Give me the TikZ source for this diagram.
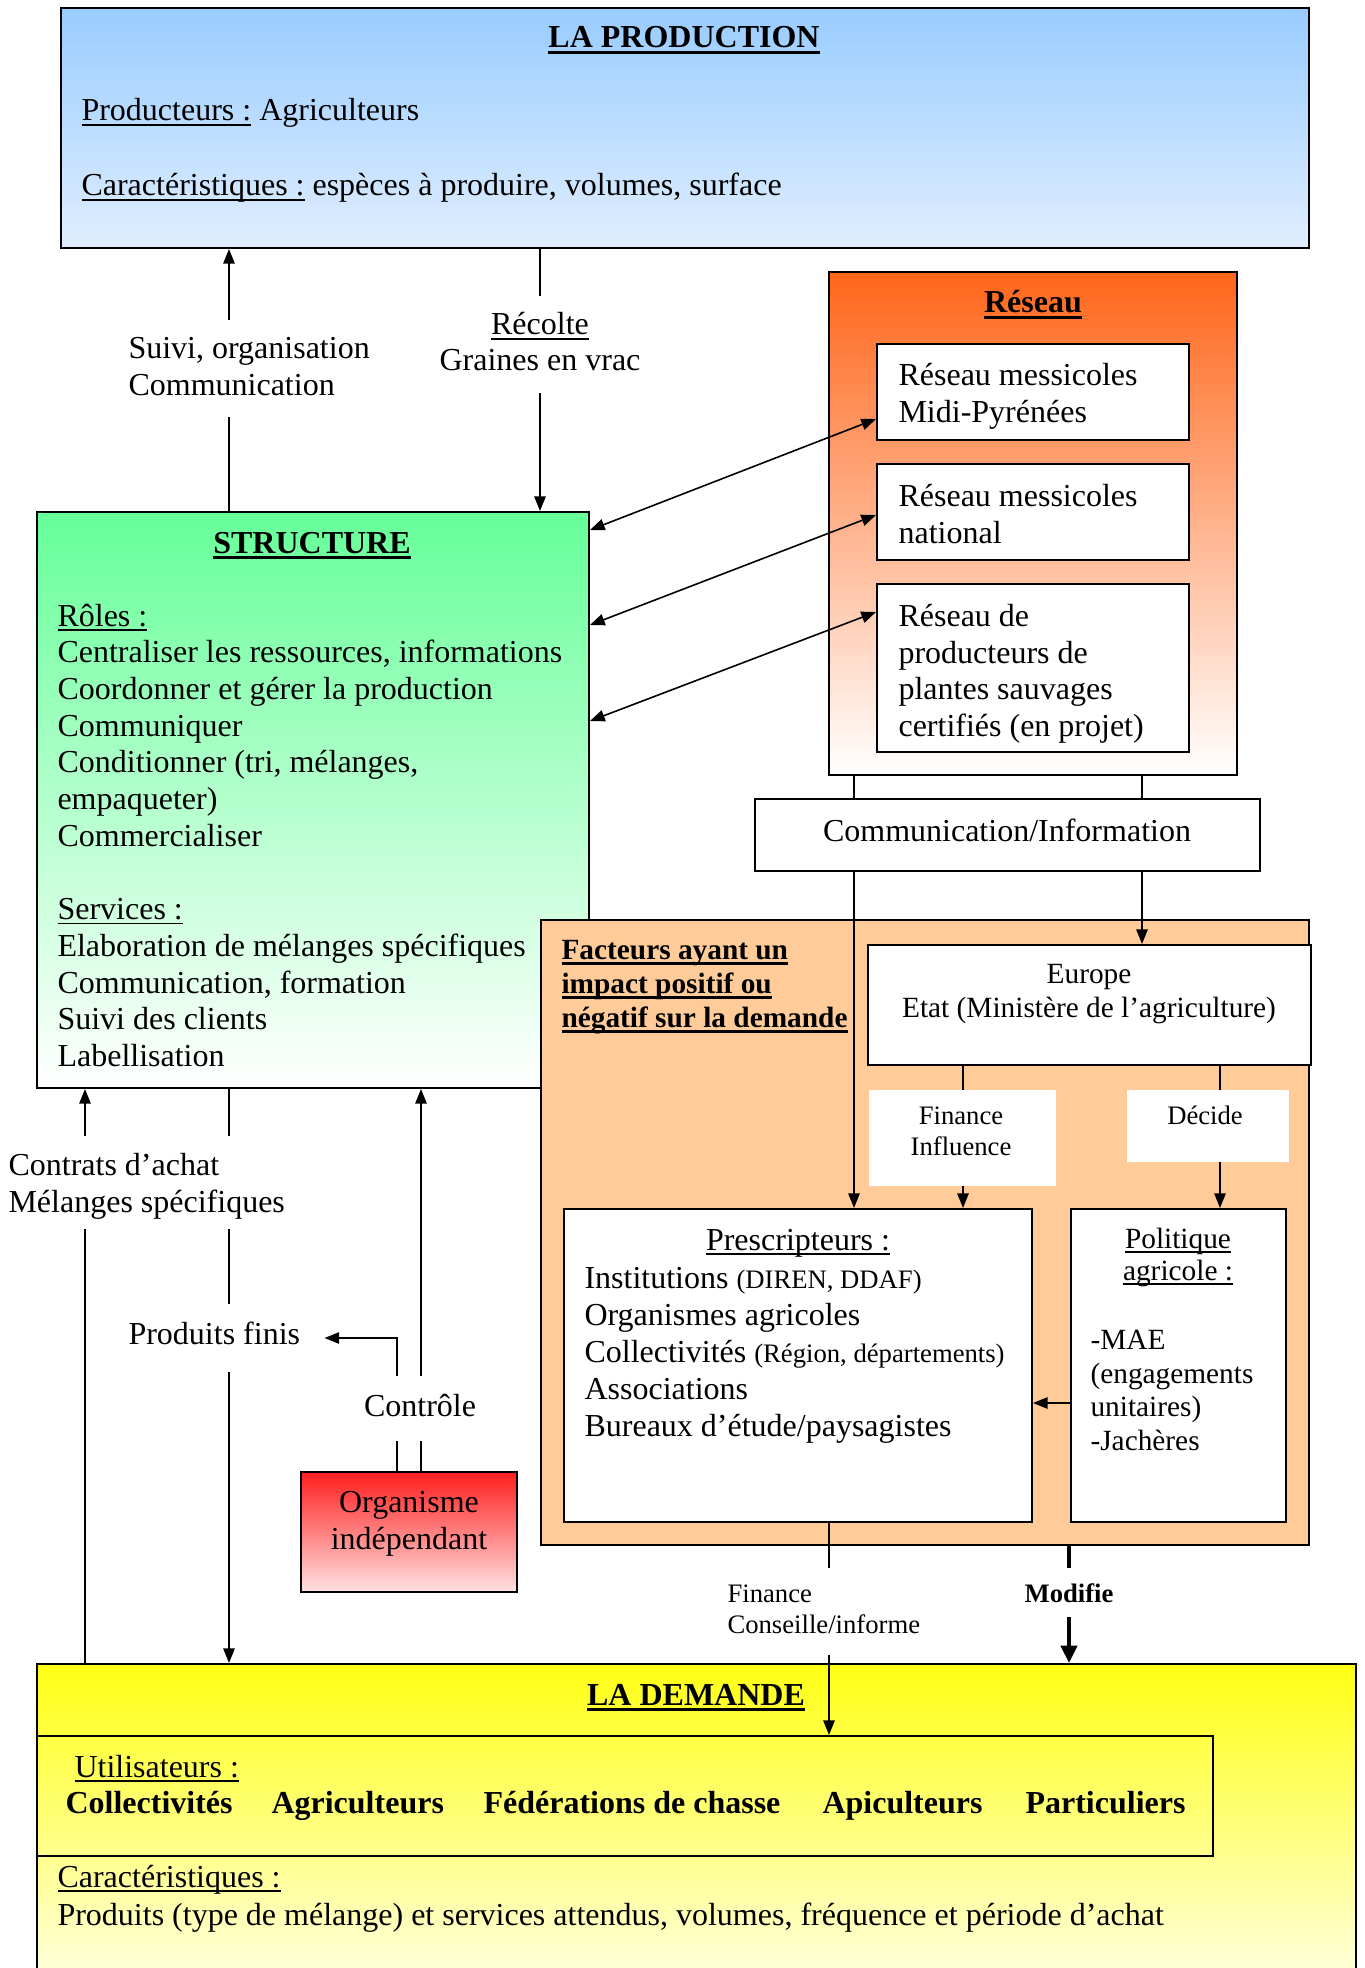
\documentclass[tikz,border=0pt]{standalone}
\usepackage{fontspec}
\setmainfont{Liberation Serif}
\usetikzlibrary{arrows.meta,fit}
\definecolor{prodtop}{RGB}{153,204,255}
\definecolor{prodbot}{RGB}{224,238,255}
\definecolor{structtop}{RGB}{102,255,153}
\definecolor{restop}{RGB}{255,102,26}
\definecolor{orgtop}{RGB}{255,30,30}
\definecolor{orgbot}{RGB}{255,226,226}
\definecolor{facorange}{RGB}{255,204,153}
\definecolor{demtop}{RGB}{255,255,20}
\definecolor{dembot}{RGB}{255,255,232}
\newsavebox{\myulbox}
\newcommand{\myul}[1]{\sbox{\myulbox}{#1}\rlap{\rule[-1.8pt]{\wd\myulbox}{0.55pt}}\usebox{\myulbox}}
\newcommand{\myulb}[1]{\sbox{\myulbox}{#1}\rlap{\rule[-2.2pt]{\wd\myulbox}{1pt}}\usebox{\myulbox}}
\begin{document}
\begin{tikzpicture}[x=0.375pt,y=-0.375pt,
  box/.style={draw, line width=0.75pt, inner sep=0pt},
  lab/.style={fill=white, inner sep=0pt},
  ln/.style={line width=0.6pt},
  arr/.style={line width=0.6pt, -{Triangle[length=5.5pt,width=4.3pt]}},
  arrtwo/.style={line width=0.6pt, {Triangle[length=5.5pt,width=4.3pt]}-{Triangle[length=5.5pt,width=4.3pt]}},
  arrthick/.style={line width=1.5pt, -{Triangle[length=6.5pt,width=6pt]}},
  t12/.style={inner sep=0pt, font=\fontsize{12}{13.8}\selectfont},
  tb12/.style={inner sep=0pt, font=\fontsize{12}{13.8}\selectfont\bfseries},
  t11/.style={inner sep=0pt, font=\fontsize{11}{12.6}\selectfont},
  tb11/.style={inner sep=0pt, font=\fontsize{11}{12.6}\selectfont\bfseries},
  t10/.style={inner sep=0pt, font=\fontsize{10}{11.5}\selectfont},
  tb10/.style={inner sep=0pt, font=\fontsize{10}{11.5}\selectfont\bfseries}]
\useasboundingbox (0,0) rectangle (1365,1968);

% ---------- boxes ----------
\node[box, fit={(61,8)(1309,248)}, top color=prodtop, bottom color=prodbot] (prod) {};
\node[box, fit={(37,512)(589,1088)}, top color=structtop, bottom color=white] (struct) {};
\node[box, fit={(829,272)(1237,775)}, top color=restop, bottom color=white] (reseau) {};
\node[box, fit={(877,344)(1189,440)}, fill=white] (r1) {};
\node[box, fit={(877,464)(1189,560)}, fill=white] (r2) {};
\node[box, fit={(877,584)(1189,752)}, fill=white] (r3) {};
\node[box, fit={(755,799)(1260,871)}, fill=white] (comm) {};
\node[box, fit={(541,920)(1309,1545)}, fill=facorange] (orange) {};
\node[box, fit={(868,945)(1311,1065)}, fill=white] (europe) {};
\node[box, fit={(564,1209)(1032,1522)}, fill=white] (presc) {};
\node[box, fit={(1071,1209)(1286,1522)}, fill=white] (polit) {};
\node[box, fit={(301,1472)(517,1592)}, top color=orgtop, bottom color=orgbot] (organisme) {};
\node[box, fit={(37,1664)(1356,1995)}, top color=demtop, bottom color=dembot] (demande) {};
\node[box, fit={(37,1736)(1213,1856)}, fill=none] (util) {};

% ---------- x / y reference coordinates ----------
\coordinate (xs) at (229,0);
\coordinate (xr) at (540,0);
\coordinate (xc1) at (854,0);
\coordinate (xc2) at (1142,0);
\coordinate (xf) at (963,0);
\coordinate (xd) at (1220,0);
\coordinate (yp) at (0,1403);
\coordinate (xfc) at (829,0);
\coordinate (xm) at (1069,0);
\coordinate (xl) at (85,0);
\coordinate (xp) at (229,0);
\coordinate (xcu) at (421,0);
\coordinate (xco) at (397,0);

% ---------- connectors ----------
\draw[arr] (struct.north -| xs) -- (prod.south -| xs);
\draw[arr] (prod.south -| xr) -- (struct.north -| xr);
\draw[arrtwo] ([shift={(0,19)}]struct.north east) -- ([shift={(0,-22)}]r1.south west);
\draw[arrtwo] ([shift={(0,114)}]struct.north east) -- ([shift={(0,-46)}]r2.south west);
\draw[arrtwo] ([shift={(0,210)}]struct.north east) -- ([shift={(0,-141)}]r3.south west);
\draw[ln] (reseau.south -| xc1) -- (comm.north -| xc1);
\draw[ln] (reseau.south -| xc2) -- (comm.north -| xc2);
\draw[arr] (comm.south -| xc1) -- (presc.north -| xc1);
\draw[arr] (comm.south -| xc2) -- (europe.north -| xc2);
\draw[arr] (europe.south -| xf) -- (presc.north -| xf);
\draw[arr] (europe.south -| xd) -- (polit.north -| xd);
\draw[arr] (polit.west |- yp) -- (presc.east |- yp);
\draw[arr] (presc.south -| xfc) -- (util.north -| xfc);
\draw[arrthick] (orange.south -| xm) -- (demande.north -| xm);
\draw[arr] (demande.north -| xl) -- (struct.south -| xl);
\draw[arr] (struct.south -| xp) -- (demande.north -| xp);
\draw[arr] (organisme.north -| xcu) -- (struct.south -| xcu);

% ---------- white label boxes ----------
\node[lab, fit={(115,320)(380,417)}] (suivibox) {};
\node[lab, fit={(425,296)(660,393)}] (recbox) {};
\node[lab, fit={(869,1090)(1056,1186)}] (finbox) {};
\node[lab, fit={(1127,1090)(1289,1162)}] (decbox) {};
\node[lab, fit={(0,1136)(290,1229)}] (contbox) {};
\node[lab, fit={(115,1304)(324,1372)}] (pfbox) {};
\draw[arr] (organisme.north -| xco) |- (pfbox.east);
\node[lab, fit={(360,1376)(480,1441)}] (ctrlbox) {};
\node[lab, fit={(715,1568)(935,1655)}] (fcbox) {};
\node[lab, fit={(1025,1568)(1120,1617)}] (modbox) {};

% ---------- texts ----------
\node[tb12, anchor=base] (tprod) at (684,48) {\myulb{LA PRODUCTION}};
\node[t12, anchor=base west] (tprod1) at (81,121) {\myul{Producteurs :} Agriculteurs};
\node[t12, anchor=base west] (tprod2) at (81,196) {\myul{Caractéristiques :} espèces à produire, volumes, surface};

\node[t12, anchor=base west] (tsuivi1) at (128,359) {Suivi, organisation};
\node[t12, anchor=base west] (tsuivi2) at (128,396) {Communication};
\node[t12, anchor=base] (trec1) at (540,335) {\myul{Récolte}};
\node[t12, anchor=base] (trec2) at (540,371) {Graines en vrac};

\node[tb12, anchor=base] (tres) at (1033,313) {\myulb{Réseau}};
\node[t12, anchor=base west] (tr1a) at (898,386) {Réseau messicoles};
\node[t12, anchor=base west] (tr1b) at (898,423) {Midi-Pyrénées};
\node[t12, anchor=base west] (tr2a) at (898,506) {Réseau messicoles};
\node[t12, anchor=base west] (tr2b) at (898,543) {national};
\node[t12, anchor=base west] (tr3a) at (898,626) {Réseau de};
\node[t12, anchor=base west] (tr3b) at (898,663) {producteurs de};
\node[t12, anchor=base west] (tr3c) at (898,699) {plantes sauvages};
\node[t12, anchor=base west] (tr3d) at (898,736) {certifiés (en projet)};
\node[t12, anchor=base] (tcomm) at (1007,841) {Communication/Information};

\node[tb12, anchor=base] (tstruct) at (312,553) {\myulb{STRUCTURE}};
\foreach \txt [count=\i from 0] in {{\myul{Rôles :}},{Centraliser les ressources, informations},{Coordonner et gérer la production},{Communiquer},{Conditionner (tri, mélanges,},{empaqueter)},{Commercialiser},{},{\myul{Services :}},{Elaboration de mélanges spécifiques},{Communication, formation},{Suivi des clients},{Labellisation}}
  \node[t12, anchor=base west] (sl\i) at (57,{626+36.7*\i}) {\txt};

\node[tb11, anchor=base west] (tfac1) at (561,959) {\myulb{Facteurs ayant un}};
\node[tb11, anchor=base west] (tfac2) at (561,993) {\myulb{impact positif ou}};
\node[tb11, anchor=base west] (tfac3) at (561,1027) {\myulb{négatif sur la demande}};

\node[t11, anchor=base] (teur1) at (1089,983) {Europe};
\node[t11, anchor=base] (teur2) at (1089,1017) {Etat (Ministère de l’agriculture)};
\node[t10, anchor=base] (tfin1) at (961,1124) {Finance};
\node[t10, anchor=base] (tfin2) at (961,1155) {Influence};
\node[t10, anchor=base] (tdec) at (1205,1124) {Décide};

\node[t12, anchor=base] (tpre) at (798,1250) {\myul{Prescripteurs :}};
\node[t12, anchor=base west] (tpre1) at (584,1288) {Institutions {\fontsize{10}{11.5}\selectfont (DIREN, DDAF)}};
\node[t12, anchor=base west] (tpre2) at (584,1325) {Organismes agricoles};
\node[t12, anchor=base west] (tpre3) at (584,1362) {Collectivités {\fontsize{10}{11.5}\selectfont (Région, départements)}};
\node[t12, anchor=base west] (tpre4) at (584,1399) {Associations};
\node[t12, anchor=base west] (tpre5) at (584,1436) {Bureaux d’étude/paysagistes};

\node[t11, anchor=base] (tpol1) at (1178,1248) {\myul{Politique}};
\node[t11, anchor=base] (tpol2) at (1178,1280) {\myul{agricole :}};
\node[t11, anchor=base west] (tpol3) at (1090,1349) {-MAE};
\node[t11, anchor=base west] (tpol4) at (1090,1383) {(engagements};
\node[t11, anchor=base west] (tpol5) at (1090,1416) {unitaires)};
\node[t11, anchor=base west] (tpol6) at (1090,1450) {-Jachères};

\node[t12, anchor=base west] (tcon1) at (8,1175) {Contrats d’achat};
\node[t12, anchor=base west] (tcon2) at (8,1212) {Mélanges spécifiques};
\node[t12, anchor=base west] (tpf) at (128,1344) {Produits finis};
\node[t12, anchor=base] (tctrl) at (420,1416) {Contrôle};
\node[t12, anchor=base] (torg1) at (409,1512) {Organisme};
\node[t12, anchor=base] (torg2) at (409,1549) {indépendant};

\node[t10, anchor=base west] (tfc1) at (727,1602) {Finance};
\node[t10, anchor=base west] (tfc2) at (727,1633) {Conseille/informe};
\node[tb10, anchor=base] (tmod) at (1069,1602) {Modifie};

\node[tb12, anchor=base] (tdem) at (696,1705) {\myulb{LA DEMANDE}};
\node[t12, anchor=base west] (tutil) at (74,1777) {\myul{Utilisateurs :}};
\node[tb12, anchor=base west] (u1) at (65,1813) {Collectivités};
\node[tb12, anchor=base west] (u2) at (271,1813) {Agriculteurs};
\node[tb12, anchor=base west] (u3) at (483,1813) {Fédérations de chasse};
\node[tb12, anchor=base west] (u4) at (822,1813) {Apiculteurs};
\node[tb12, anchor=base west] (u5) at (1025,1813) {Particuliers};
\node[t12, anchor=base west] (tcar) at (57,1887) {\myul{Caractéristiques :}};
\node[t12, anchor=base west] (tcar2) at (57,1925) {Produits (type de mélange) et services attendus, volumes, fréquence et période d’achat};
\end{tikzpicture}
\end{document}
